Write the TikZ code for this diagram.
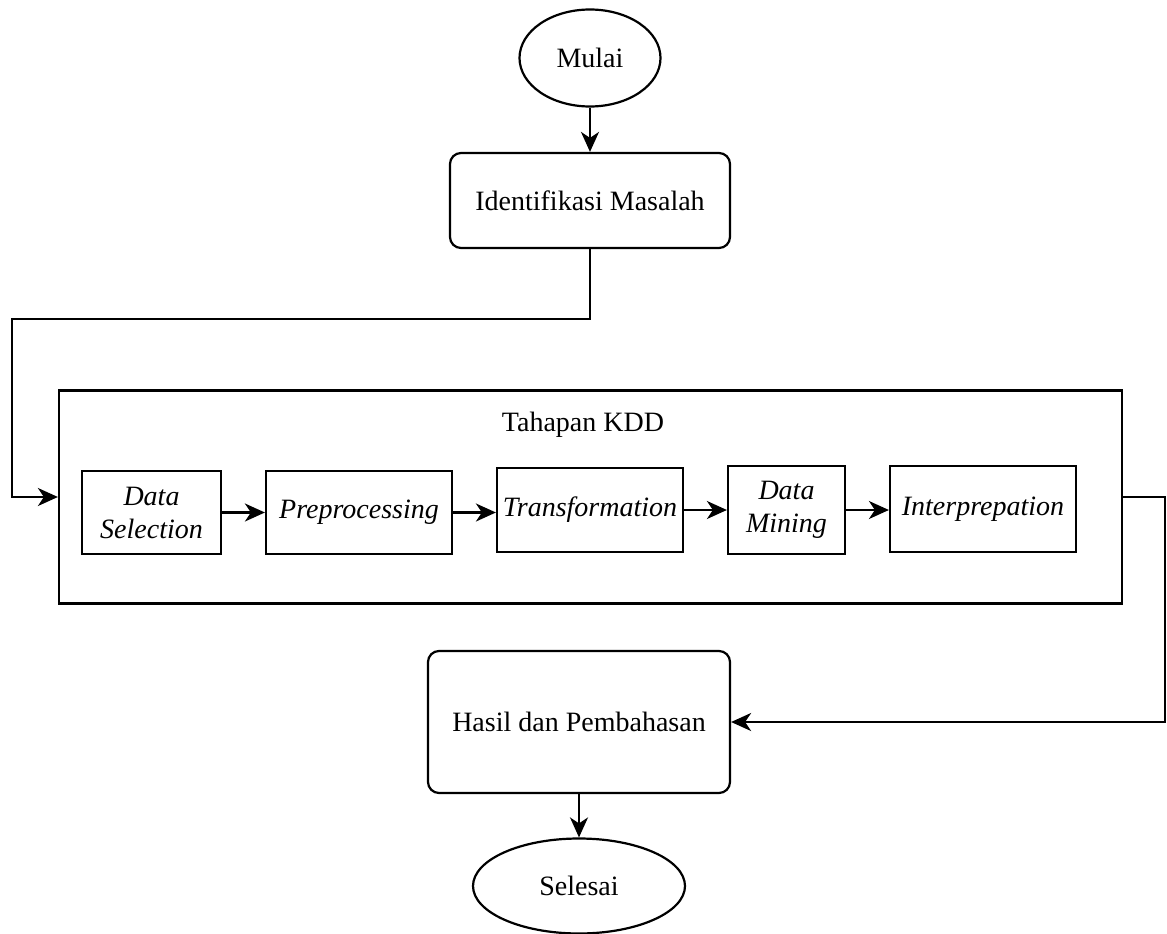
\documentclass[tikz,border=0pt]{standalone}
\usepackage{fontspec}
\setmainfont{Liberation Serif}
\usetikzlibrary{shapes.geometric,arrows.meta}
\begin{document}
\begin{tikzpicture}[x=1pt,y=-1pt,
  every node/.style={font=\fontsize{28}{33}\selectfont, inner sep=0pt, align=center},
  line/.style={line width=2.2pt, draw=black},
  arr/.style={line, -{Stealth[length=20pt,width=18pt,inset=6pt]}},
  term/.style={ellipse, line},
  rbox/.style={rectangle, rounded corners=11pt, line},
  sbox/.style={rectangle, line, font=\fontsize{28}{33}\selectfont\itshape}
]
\useasboundingbox (0,0) rectangle (1167,934);
\node[term, minimum width=141pt, minimum height=97pt] (mulai) at (590,58) {Mulai};
\node[rbox, minimum width=280pt, minimum height=95pt] (ident) at (590,200.5) {Identifikasi Masalah};
\node[rectangle, line, minimum width=1063pt, minimum height=213pt] (kdd) at (590.5,497) {};
\node (kddt) at (583,425) {Tahapan KDD};
\node[sbox, minimum width=139pt, minimum height=83pt] (ds) at (151.5,512.5) {Data\\Selection};
\node[sbox, minimum width=186pt, minimum height=83pt] (pre) at (359,512.5) {Preprocessing};
\node[sbox, minimum width=186pt, minimum height=84pt] (tr) at (590,510) {Transformation};
\node[sbox, minimum width=117pt, minimum height=88pt] (dm) at (786.5,510) {Data\\Mining};
\node[sbox, minimum width=186pt, minimum height=86pt] (ip) at (983,509) {Interprepation};
\node[rbox, minimum width=302pt, minimum height=142pt] (hasil) at (579,722) {Hasil dan Pembahasan};
\node[term, minimum width=212pt, minimum height=95pt] (selesai) at (579,886) {Selesai};
\coordinate (c1) at (12,319);
\coordinate (c2) at (1165,722);
\draw[arr] (mulai.south) -- (ident.north);
\draw[arr] (ident.south) |- (c1) |- (kdd.west);
\draw[arr] (ds.east) -- (ds.east -| pre.west);
\draw[arr] (pre.east) -- (pre.east -| tr.west);
\draw[arr] (tr.east) -- (tr.east -| dm.west);
\draw[arr] (dm.east) -- (dm.east -| ip.west);
\draw[arr] (kdd.east) -| (c2) -- (hasil.east);
\draw[arr] (hasil.south) -- (selesai.north);
\end{tikzpicture}
\end{document}
